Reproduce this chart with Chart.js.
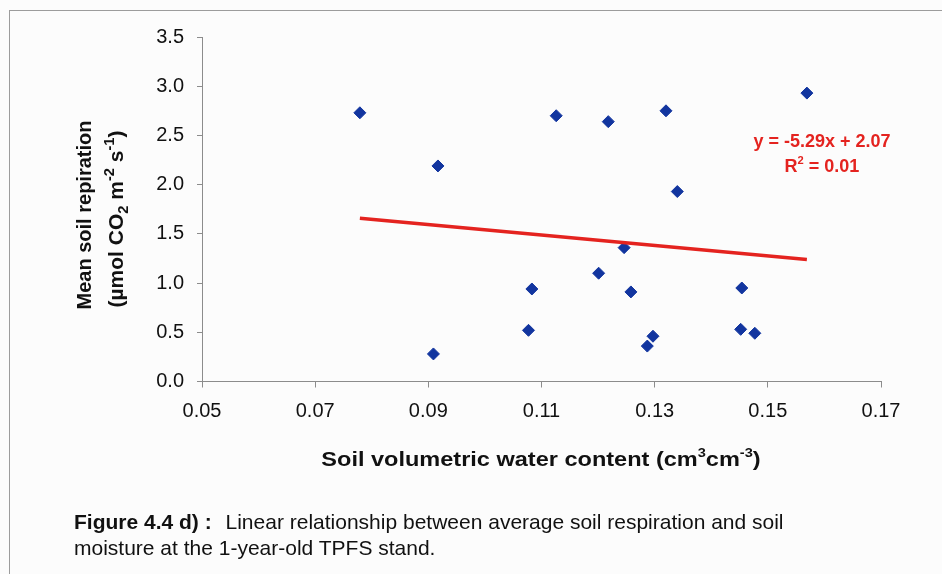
<!DOCTYPE html>
<html>
<head>
<meta charset="utf-8">
<script src="https://cdn.jsdelivr.net/npm/chart.js@4.4.0/dist/chart.umd.min.js"></script>
<style>
  html, body { margin: 0; padding: 0; background: #fcfcfc; }
  #wrap { position: relative; width: 942px; height: 574px; overflow: hidden; }
  #frame { position: absolute; left: 9px; top: 10px; width: 1000px; height: 700px;
           border-left: 1px solid #9c9c9c; border-top: 1px solid #9c9c9c; }
  #resp-chart { position: absolute; left: 0; top: 0; }
  #caption { position: absolute; left: 74px; top: 509px; color: #111;
             font: 21px "Liberation Sans", Arial, sans-serif; line-height: 26px; white-space: nowrap; }
  #caption b { margin-right: 8px; }
</style>
</head>
<body>
<div id="wrap">
  <div id="frame"></div>
  <canvas id="resp-chart" width="942" height="574"></canvas>
  <div id="caption"><b>Figure 4.4 d) :</b> Linear relationship between average soil respiration and soil<br>moisture at the 1-year-old TPFS stand.</div>
</div>
<script>
// soil moisture (cm3 cm-3) and mean soil respiration per plot
var waterContent = [0.0779, 0.1126, 0.1218, 0.1320, 0.1569, 0.0917, 0.1340, 0.1246, 0.1201,
                    0.1083, 0.1258, 0.1454, 0.1077, 0.1452, 0.1477, 0.1297, 0.1287, 0.0909];
var respiration  = [2.73, 2.70, 2.64, 2.75, 2.93, 2.19, 1.93, 1.36, 1.10,
                    0.94, 0.91, 0.95, 0.52, 0.53, 0.49, 0.46, 0.36, 0.28];

// fitted line y = a x + b
var trendSlope = -5.29;
var trendIntercept = 2.07;
var trendR2 = 0.01;

var xTicks = [0.05, 0.07, 0.09, 0.11, 0.13, 0.15, 0.17];
var yTicks = [0.0, 0.5, 1.0, 1.5, 2.0, 2.5, 3.0, 3.5];

var FONT = '"Liberation Sans", Arial, sans-serif';
var AXIS_COLOR = '#8c8c8c';

var points = waterContent.map(function (x, i) { return { x: x, y: respiration[i] }; });
var xLo = Math.min.apply(null, waterContent);
var xHi = Math.max.apply(null, waterContent);
var trendPts = [
    { x: xLo, y: trendSlope * xLo + trendIntercept },
    { x: xHi, y: trendSlope * xHi + trendIntercept }
];

// draws a run of text pieces, some raised or lowered, centred on x
function drawRich(ctx, parts, x, y, size, color, sx, small) {
    sx = sx || 1;
    small = small || 0.62;
    var total = 0;
    parts.forEach(function (p) {
        var s = p.sup || p.sub ? size * small : size;
        p.font = 'bold ' + s + 'px ' + FONT;
        ctx.font = p.font;
        p.w = ctx.measureText(p.t).width;
        total += p.w;
    });
    ctx.save();
    ctx.translate(x, y);
    ctx.scale(sx, 1);
    var cx = -total / 2;
    ctx.fillStyle = color;
    ctx.textAlign = 'left';
    ctx.textBaseline = 'alphabetic';
    parts.forEach(function (p) {
        var dy = p.sup ? -size * 0.42 : (p.sub ? size * 0.22 : 0);
        ctx.font = p.font;
        ctx.fillText(p.t, cx, dy);
        cx += p.w;
    });
    ctx.restore();
}

var titles = {
    id: 'titles',
    afterDraw: function (chart) {
        var ctx = chart.ctx;
        ctx.save();
        // x axis title
        drawRich(ctx, [
            { t: 'Soil volumetric water content (cm' }, { t: '3', sup: true },
            { t: 'cm' }, { t: '-3', sup: true }, { t: ')' }
        ], 541, 466, 21, '#111', 1.12);

        // y axis title, two rotated lines
        ctx.save();
        ctx.translate(91, 215);
        ctx.rotate(-Math.PI / 2);
        drawRich(ctx, [{ t: 'Mean soil repiration' }], 0, 0, 20, '#111');
        ctx.restore();
        ctx.save();
        ctx.translate(123, 219);
        ctx.rotate(-Math.PI / 2);
        drawRich(ctx, [
            { t: '(\u00B5mol CO' }, { t: '2', sub: true }, { t: ' m' }, { t: '-2', sup: true },
            { t: ' s' }, { t: '-1', sup: true }, { t: ')' }
        ], 0, 0, 21, '#111', 1, 0.7);
        ctx.restore();

        // regression equation
        var eq = 'y = ' + trendSlope.toFixed(2) + 'x + ' + trendIntercept.toFixed(2);
        drawRich(ctx, [{ t: eq }], 822, 146.5, 18, '#e4231f');
        drawRich(ctx, [{ t: 'R' }, { t: '2', sup: true }, { t: ' = ' + trendR2.toFixed(2) }],
                 822, 172, 18, '#e4231f');
        ctx.restore();
    }
};

var ctx = document.getElementById('resp-chart').getContext('2d');
window.RespChart = new Chart(ctx, {
    type: 'scatter',
    data: {
        datasets: [{
            type: 'line',
            data: trendPts,
            borderColor: '#e4231f',
            borderWidth: 3.5,
            pointRadius: 0,
            fill: false
        }, {
            data: points,
            pointStyle: 'rectRot',
            pointRadius: 6,
            backgroundColor: '#12359f',
            borderColor: '#12359f',
            borderWidth: 1
        }]
    },
    options: {
        responsive: false,
        animation: false,
        devicePixelRatio: 1,
        layout: { padding: { left: 0, top: 37, right: 61, bottom: 0 } },
        plugins: {
            legend: { display: false },
            tooltip: { enabled: false }
        },
        scales: {
            x: {
                type: 'linear',
                min: xTicks[0],
                max: xTicks[xTicks.length - 1],
                afterBuildTicks: function (scale) {
                    scale.ticks = xTicks.map(function (v) { return { value: v }; });
                },
                afterFit: function (scale) { scale.height = 574 - 381.5; },
                ticks: {
                    callback: function (v) { return v.toFixed(2); },
                    font: { family: FONT, size: 20 },
                    color: '#111',
                    padding: 12,
                    maxRotation: 0,
                    autoSkip: false
                },
                grid: { drawOnChartArea: false, drawTicks: true, tickLength: 6, color: AXIS_COLOR },
                border: { color: AXIS_COLOR, width: 1 }
            },
            y: {
                min: yTicks[0],
                max: yTicks[yTicks.length - 1],
                afterBuildTicks: function (scale) {
                    scale.ticks = yTicks.map(function (v) { return { value: v }; });
                },
                afterFit: function (scale) { scale.width = 202; },
                ticks: {
                    callback: function (v) { return v.toFixed(1); },
                    font: { family: FONT, size: 20 },
                    color: '#111',
                    padding: 13,
                    autoSkip: false
                },
                grid: { drawOnChartArea: false, drawTicks: true, tickLength: 5, color: AXIS_COLOR },
                border: { color: AXIS_COLOR, width: 1 }
            }
        }
    },
    plugins: [titles]
});
</script>
</body>
</html>
